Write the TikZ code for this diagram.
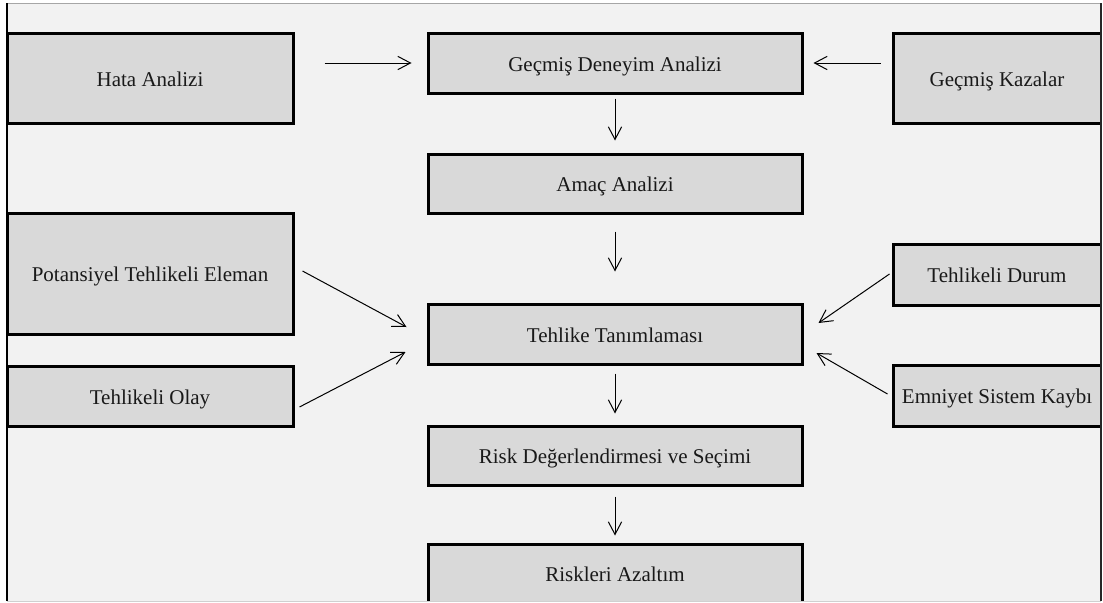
\documentclass[tikz,border=0pt]{standalone}
\usepackage{fontspec}
\setmainfont{Liberation Serif}
\usetikzlibrary{arrows.meta,calc}

\definecolor{panel}{HTML}{F2F2F2}
\definecolor{boxfill}{HTML}{D9D9D9}
\definecolor{edgegray}{HTML}{A6A6A6}
\definecolor{edgelight}{HTML}{D0D0D0}

\tikzset{
  box/.style={draw=black, fill=boxfill, line width=2.25pt, inner sep=0pt,
    font=\fontsize{15.75pt}{18pt}\selectfont, text=black!90,
    text height=16pt, text depth=3.5pt},
  leftbox/.style={box, minimum width=214.5pt},
  midbox/.style={box, minimum width=280.5pt},
  rightbox/.style={box, minimum width=156pt},
  arr/.style={line width=0.75pt, -{Straight Barb[length=9.5pt,width=10pt,line width=0.75pt]}}
}

\begin{document}
\begin{tikzpicture}[x=0.75pt, y=-0.75pt]
  \useasboundingbox (0,0) rectangle (1103,603);
  % panel background
  \fill[panel] (7,3) rectangle (1101,601);

  \begin{scope}
    \clip (7,3) rectangle (1101,601);
    % left column
    \node[leftbox, minimum height=67.5pt]  (hata) at (150,78)    {Hata Analizi};
    \node[leftbox, minimum height=90.75pt] (pot)  at (150,273.5) {Potansiyel Tehlikeli Eleman};
    \node[leftbox, minimum height=45pt]    (olay) at (150,396)   {Tehlikeli Olay};
    % middle column
    \node[midbox, minimum height=45pt]     (gecmis)   at (615,63)    {Geçmiş Deneyim Analizi};
    \node[midbox, minimum height=44.25pt]  (amac)     at (615,183.5) {Amaç Analizi};
    \node[midbox, minimum height=45pt]     (tehlike)  at (615,334)   {Tehlike Tanımlaması};
    \node[midbox, minimum height=44.25pt]  (risk)     at (615,455.5) {Risk Değerlendirmesi ve Seçimi};
    \node[midbox, minimum height=43.5pt]   (riskleri) at (615,573)   {Riskleri Azaltım};
    % right column
    \node[rightbox, minimum height=67.5pt]  (kazalar) at (997,78)    {Geçmiş Kazalar};
    \node[rightbox, minimum height=45.75pt] (durum)   at (997,274.5) {Tehlikeli Durum};
    \node[rightbox, minimum height=45.75pt] (emniyet) at (997,395.5) {Emniyet Sistem Kaybı};
  \end{scope}

  % panel edges
  \draw[edgegray, line width=1pt] (7,3.5) -- (1101,3.5);
  \draw[edgelight, line width=0.75pt] (7,601) -- (1101,601);
  \draw[black, line width=1.2pt] (7,3) -- (7,601);
  \draw[black!85, line width=0.9pt] (1101,3) -- (1101,601);

  % horizontal inputs
  \draw[arr] ($(hata.east |- gecmis.west)+(30,0)$) -- ($(gecmis.west)+(-15,0)$);
  \draw[arr] ($(kazalar.west |- gecmis.east)+(-11,0)$) -- ($(gecmis.east)+(10,0)$);

  % main vertical chain
  \draw[arr] ($(gecmis.south)+(0,4)$)   -- ($(amac.north)+(0,-12)$);
  \draw[arr] ($(amac.south)+(0,17)$)    -- ($(tehlike.north)+(0,-31)$);
  \draw[arr] ($(tehlike.south)+(0,8)$)  -- ($(risk.north)+(0,-11)$);
  \draw[arr] ($(risk.south)+(0,10)$)    -- ($(riskleri.north)+(0,-7)$);

  % diagonal inputs to hazard identification
  \draw[arr] ($(pot.east)+(8,-2.5)$)     -- ($(tehlike.west)+(-20,-7)$);
  \draw[arr] ($(olay.east)+(5,11)$)      -- ($(tehlike.west)+(-21,18)$);
  \draw[arr] ($(durum.west)+(-2,-0.5)$)  -- ($(tehlike.east)+(15,-11)$);
  \draw[arr] ($(emniyet.west)+(-4,-1.5)$) -- ($(tehlike.east)+(13,19)$);
\end{tikzpicture}
\end{document}
